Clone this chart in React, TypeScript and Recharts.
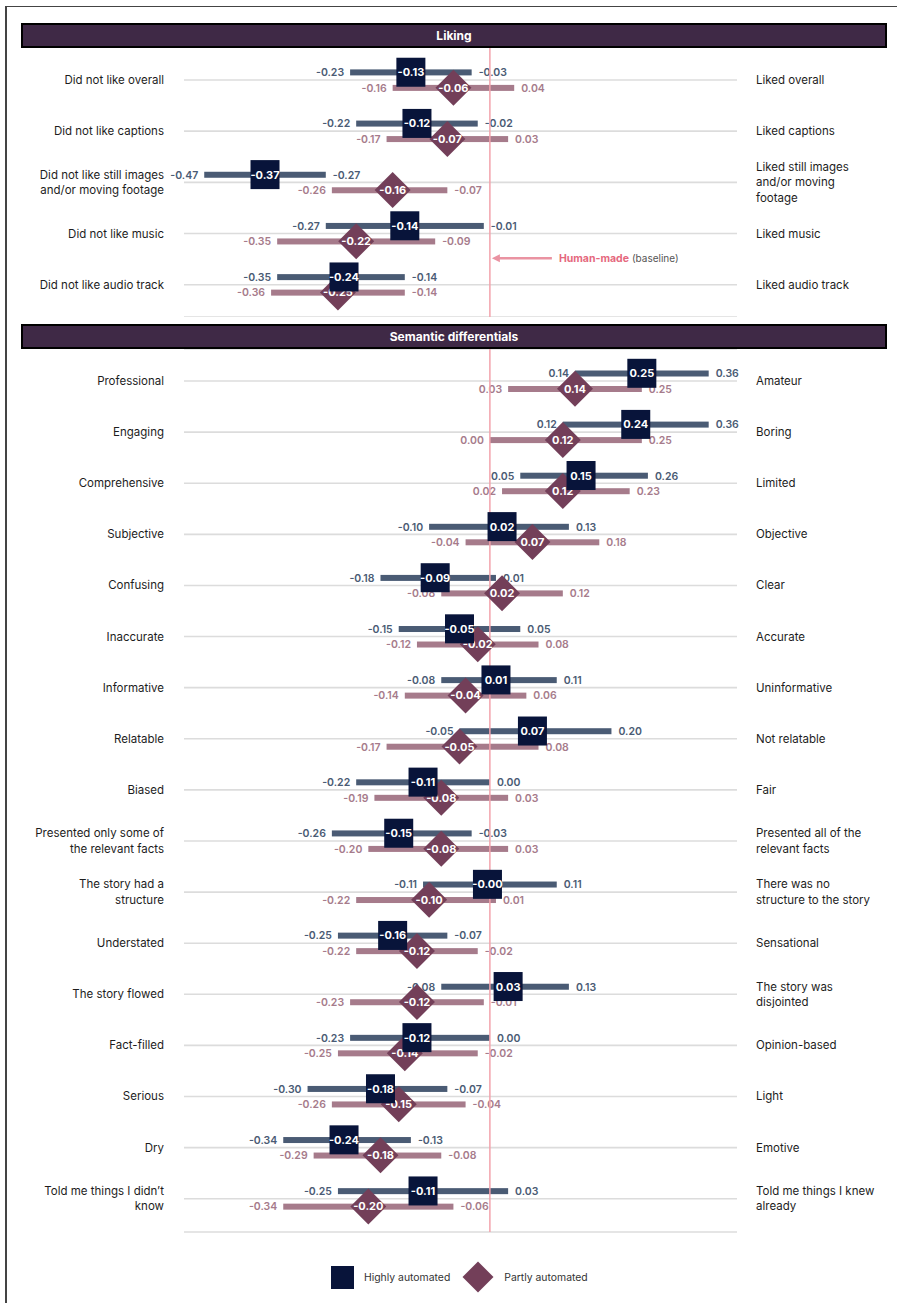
import React from 'react';
import {
  ComposedChart,
  Bar,
  Scatter,
  XAxis,
  YAxis,
  CartesianGrid,
  ReferenceLine,
  ReferenceDot,
  Legend,
} from 'recharts';

const FONT = 'Inter, "Noto Sans", "DejaVu Sans", sans-serif';

// ---------- Liking ----------
const likingLeft = [
  'Did not like overall',
  'Did not like captions',
  'Did not like still images\nand/or moving footage',
  'Did not like music',
  'Did not like audio track',
];
const likingRight = [
  'Liked overall',
  'Liked captions',
  'Liked still images\nand/or moving\nfootage',
  'Liked music',
  'Liked audio track',
];
const likingHLow = [-0.23, -0.22, -0.47, -0.27, -0.35];
const likingHMid = [-0.13, -0.12, -0.37, -0.14, -0.24];
const likingHHigh = [-0.03, -0.02, -0.27, -0.01, -0.14];
const likingPLow = [-0.16, -0.17, -0.26, -0.35, -0.36];
const likingPMid = [-0.06, -0.07, -0.16, -0.22, -0.25];
const likingPHigh = [0.04, 0.03, -0.07, -0.09, -0.14];

// ---------- Semantic differentials ----------
const semLeft = [
  'Professional',
  'Engaging',
  'Comprehensive',
  'Subjective',
  'Confusing',
  'Inaccurate',
  'Informative',
  'Relatable',
  'Biased',
  'Presented only some of\nthe relevant facts',
  'The story had a\nstructure',
  'Understated',
  'The story flowed',
  'Fact-filled',
  'Serious',
  'Dry',
  'Told me things I didn\u2019t\nknow',
];
const semRight = [
  'Amateur',
  'Boring',
  'Limited',
  'Objective',
  'Clear',
  'Accurate',
  'Uninformative',
  'Not relatable',
  'Fair',
  'Presented all of the\nrelevant facts',
  'There was no\nstructure to the story',
  'Sensational',
  'The story was\ndisjointed',
  'Opinion-based',
  'Light',
  'Emotive',
  'Told me things I knew\nalready',
];
const semHLow = [0.14, 0.12, 0.05, -0.10, -0.18, -0.15, -0.08, -0.05, -0.22, -0.26, -0.11, -0.25, -0.08, -0.23, -0.30, -0.34, -0.25];
const semHMid = [0.25, 0.24, 0.15, 0.02, -0.09, -0.05, 0.01, 0.07, -0.11, -0.15, -0.004, -0.16, 0.03, -0.12, -0.18, -0.24, -0.11];
const semHHigh = [0.36, 0.36, 0.26, 0.13, 0.01, 0.05, 0.11, 0.20, 0.00, -0.03, 0.11, -0.07, 0.13, 0.00, -0.07, -0.13, 0.03];
const semPLow = [0.03, 0.00, 0.02, -0.04, -0.08, -0.12, -0.14, -0.17, -0.19, -0.20, -0.22, -0.22, -0.23, -0.25, -0.26, -0.29, -0.34];
const semPMid = [0.14, 0.12, 0.12, 0.07, 0.02, -0.02, -0.04, -0.05, -0.08, -0.08, -0.10, -0.12, -0.12, -0.14, -0.15, -0.18, -0.20];
const semPHigh = [0.25, 0.25, 0.23, 0.18, 0.12, 0.08, 0.06, 0.08, 0.03, 0.03, 0.01, -0.02, -0.01, -0.02, -0.04, -0.08, -0.06];

const SERIES_H = 'Highly automated';
const SERIES_P = 'Partly automated';
const BASELINE_NAME = 'Human-made';
const BASELINE_NOTE = '(baseline)';

const X_DOMAIN: [number, number] = [-0.5, 0.4];

const NAVY = '#08143A';
const PLUM = '#733F59';
const H_BAR = '#4A5B74';
const P_BAR = '#A67B8B';
const HEADER = '#3F2946';
const BASE_LINE = '#F3A3AC';
const BASE_TEXT = '#E5687D';

const fmt = (v: number) => v.toFixed(2);

function buildRows(
  left: string[], right: string[],
  hLow: number[], hMid: number[], hHigh: number[],
  pLow: number[], pMid: number[], pHigh: number[]
) {
  return left.map((l, i) => ({
    left: l,
    right: right[i],
    hLow: hLow[i],
    hMid: hMid[i],
    hHigh: hHigh[i],
    pLow: pLow[i],
    pMid: pMid[i],
    pHigh: pHigh[i],
    hRange: [hLow[i], hHigh[i]],
    pRange: [pLow[i], pHigh[i]],
  }));
}

const likingData = buildRows(likingLeft, likingRight, likingHLow, likingHMid, likingHHigh, likingPLow, likingPMid, likingPHigh);
const semData = buildRows(semLeft, semRight, semHLow, semHMid, semHHigh, semPLow, semPMid, semPHigh);

const makeTick = (anchor: 'start' | 'end') => (props: any) => {
  const { x, y, payload } = props;
  const lines = String(payload.value).split('\n');
  const lh = 15.5;
  const start = -((lines.length - 1) * lh) / 2 + 4;
  return (
    <text x={x} y={y} textAnchor={anchor} fontSize={11.5} fill="#1d1d1d" fontFamily={FONT}>
      {lines.map((ln, i) => (
        <tspan key={i} x={x} dy={i === 0 ? start : lh}>
          {ln}
        </tspan>
      ))}
    </text>
  );
};
const LeftTick = makeTick('end');
const RightTick = makeTick('start');

const makeRangeShape = (color: string, lowKey: string, highKey: string) => (props: any) => {
  const { x, y, width, height, payload } = props;
  if (x == null || y == null) return null;
  const cy = y + height / 2;
  return (
    <g>
      <rect x={x} y={y} width={Math.max(0, width)} height={height} fill={color} />
      <text x={x - 6} y={cy} dy={3.8} textAnchor="end" fontSize={10.5} fontWeight={600} fill={color} fontFamily={FONT}>
        {fmt(payload[lowKey])}
      </text>
      <text x={x + width + 7} y={cy} dy={3.8} textAnchor="start" fontSize={10.5} fontWeight={600} fill={color} fontFamily={FONT}>
        {fmt(payload[highKey])}
      </text>
    </g>
  );
};
const HRangeShape = makeRangeShape(H_BAR, 'hLow', 'hHigh');
const PRangeShape = makeRangeShape(P_BAR, 'pLow', 'pHigh');

const SquareShape = (props: any) => {
  const { cx, cy, payload } = props;
  if (cx == null || cy == null) return null;
  const yc = cy - 7.75;
  return (
    <g>
      <rect x={cx - 14.5} y={yc - 14.5} width={29} height={29} fill={NAVY} />
      <text x={cx} y={yc} dy={4} textAnchor="middle" fontSize={11} fontWeight={700} fill="#fff" fontFamily={FONT}>
        {fmt(payload.hMid)}
      </text>
    </g>
  );
};

const DiamondShape = (props: any) => {
  const { cx, cy, payload } = props;
  if (cx == null || cy == null) return null;
  const yc = cy + 7.75;
  const r = 18;
  return (
    <g>
      <polygon points={`${cx},${yc - r} ${cx + r},${yc} ${cx},${yc + r} ${cx - r},${yc}`} fill={PLUM} />
      <text x={cx} y={yc} dy={4} textAnchor="middle" fontSize={11} fontWeight={700} fill="#fff" fontFamily={FONT}>
        {fmt(payload.pMid)}
      </text>
    </g>
  );
};

const BaselineNote = (props: any) => {
  const { cx, cy } = props;
  if (cx == null || cy == null) return null;
  const y = cy - 26.5;
  return (
    <g>
      <line x1={cx + 8} y1={y} x2={cx + 62} y2={y} stroke="#EA93A2" strokeWidth={2.5} />
      <polygon points={`${cx + 2},${y} ${cx + 10},${y - 4} ${cx + 10},${y + 4}`} fill="#EA93A2" />
      <text x={cx + 69} y={y} dy={3.8} fontFamily={FONT}>
        <tspan fontSize={10.5} fontWeight={700} fill={BASE_TEXT}>{BASELINE_NAME}</tspan>
        <tspan fontSize={10} fill="#555" dx={3}>{BASELINE_NOTE}</tspan>
      </text>
    </g>
  );
};

const LegendContent = () => (
  <div style={{ display: 'flex', alignItems: 'center', fontFamily: FONT, fontSize: 10.4, color: '#333', whiteSpace: 'nowrap' }}>
    <svg width={23} height={23} style={{ display: 'block' }}>
      <rect x={0} y={0} width={23} height={23} fill={NAVY} />
    </svg>
    <span style={{ marginLeft: 10 }}>{SERIES_H}</span>
    <svg width={32} height={32} style={{ display: 'block', marginLeft: 12 }}>
      <polygon points="16,0.5 31.5,16 16,31.5 0.5,16" fill={PLUM} />
    </svg>
    <span style={{ marginLeft: 10 }}>{SERIES_P}</span>
  </div>
);

function Section(props: {
  data: any[];
  height: number;
  bottom: number;
  padTop: number;
  padBottom: number;
  note?: string;
  legend?: boolean;
}) {
  const { data, height, bottom, padTop, padBottom, note, legend } = props;
  return (
    <ComposedChart
      width={897}
      height={height}
      data={data}
      layout="vertical"
      margin={{ top: 0, right: 0, bottom, left: 0 }}
      barGap={9.5}
    >
      <CartesianGrid yAxisId="left" vertical={false} horizontal stroke="#dcdcdc" strokeWidth={1.6} />
      <XAxis type="number" domain={X_DOMAIN} hide padding={{ left: 2, right: 4 }} />
      <YAxis
        yAxisId="left"
        type="category"
        dataKey="left"
        width={184}
        axisLine={false}
        tickLine={false}
        tickSize={0}
        tickMargin={20}
        interval={0}
        tick={LeftTick}
        padding={{ top: padTop, bottom: padBottom }}
      />
      <YAxis
        yAxisId="right"
        orientation="right"
        type="category"
        dataKey="right"
        width={160}
        axisLine={false}
        tickLine={false}
        tickSize={0}
        tickMargin={19}
        interval={0}
        tick={RightTick}
        padding={{ top: padTop, bottom: padBottom }}
      />
      <Bar yAxisId="left" dataKey="hRange" name={SERIES_H} barSize={6} fill={H_BAR} shape={HRangeShape} isAnimationActive={false} />
      <Bar yAxisId="left" dataKey="pRange" name={SERIES_P} barSize={6} fill={P_BAR} shape={PRangeShape} isAnimationActive={false} />
      <ReferenceLine yAxisId="left" x={0} stroke={BASE_LINE} strokeWidth={1.5} />
      {note ? (
        <ReferenceDot yAxisId="left" x={0} y={note} r={0} shape={BaselineNote} ifOverflow="visible" />
      ) : null}
      <Scatter yAxisId="left" dataKey="pMid" name={SERIES_P} fill={PLUM} shape={DiamondShape} isAnimationActive={false} />
      <Scatter yAxisId="left" dataKey="hMid" name={SERIES_H} fill={NAVY} shape={SquareShape} isAnimationActive={false} />
      {legend ? (
        <Legend
          layout="horizontal"
          verticalAlign="middle"
          align="center"
          wrapperStyle={{ top: 912, left: 331, width: 320 }}
          content={LegendContent}
        />
      ) : null}
    </ComposedChart>
  );
}

const headerStyle = (top: number): React.CSSProperties => ({
  position: 'absolute',
  left: 21,
  top,
  width: 866,
  height: 25,
  boxSizing: 'border-box',
  border: '2px solid #000',
  background: HEADER,
  color: '#fff',
  fontFamily: FONT,
  fontWeight: 700,
  fontSize: 12,
  display: 'flex',
  alignItems: 'center',
  justifyContent: 'center',
  zIndex: 2,
});

export default function App() {
  return (
    <div style={{ position: 'relative', width: 897, height: 1303, overflow: 'hidden', background: '#fff' }}>
      <style>{'body{margin:0;}'}</style>
      <div
        style={{
          position: 'absolute',
          left: 5,
          top: 6,
          width: 1000,
          height: 2000,
          borderLeft: '2px solid #444',
          borderTop: '1.5px solid #444',
          boxSizing: 'border-box',
        }}
      />
      <div style={headerStyle(22.5)}>Liking</div>
      <div style={{ position: 'absolute', left: 0, top: 47 }}>
        <Section data={likingData} height={270} bottom={0} padTop={7.4} padBottom={6.7} note={likingLeft[4]} />
      </div>
      <div style={headerStyle(324)}>Semantic differentials</div>
      <div style={{ position: 'absolute', left: 0, top: 349 }}>
        <Section data={semData} height={954} bottom={71} padTop={6.5} padBottom={7.75} legend />
      </div>
    </div>
  );
}
